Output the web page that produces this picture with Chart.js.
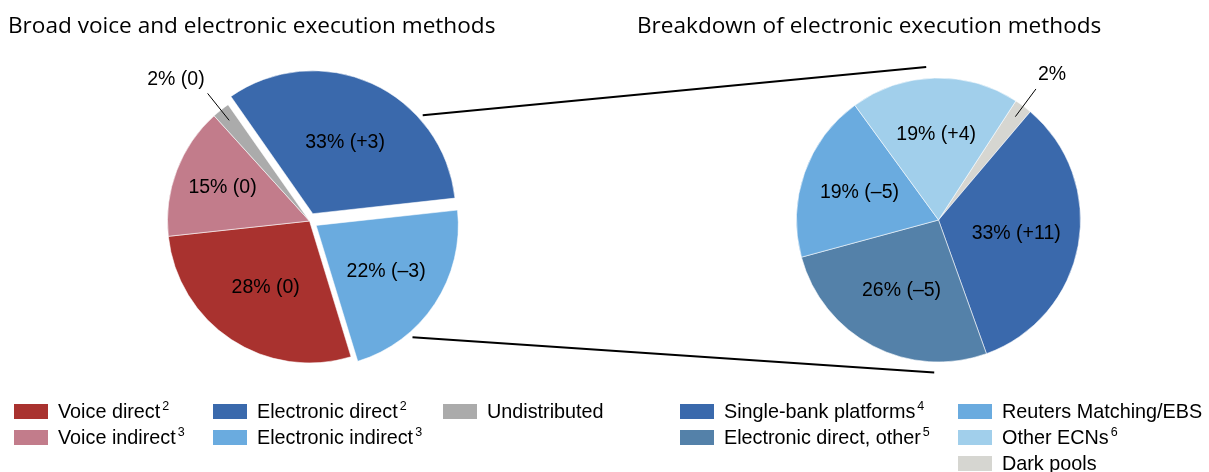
<!DOCTYPE html>
<html>
<head>
<meta charset="utf-8">
<script src="https://cdn.jsdelivr.net/npm/chart.js@4.4.1/dist/chart.umd.min.js"></script>
<style>
  html, body { margin: 0; padding: 0; background: #fff; }
  #page { position: relative; width: 1209px; height: 472px; overflow: hidden; }
  #page canvas { position: absolute; left: 0; top: 0; }
  .title { position: absolute; top: 9.5px; font-family: "Open Sans", "Noto Sans", sans-serif; font-size: 22.6px; color: #000; white-space: nowrap; line-height: 30px; }
  .legend-item { position: absolute; height: 26px; font-family: "Liberation Sans", Arial, sans-serif; font-size: 19.8px; line-height: 26px; color: #000; white-space: nowrap; }
  .legend-item .swatch { position: absolute; left: 0; top: 6px; width: 34px; height: 15px; }
  .legend-item .text { position: absolute; left: 44px; top: 0; }
  .legend-item sup { font-size: 12.5px; vertical-align: 8px; line-height: 0; margin-left: 2px; }
</style>
</head>
<body>
<div id="page">
  <canvas id="broad" width="1209" height="472"></canvas>
  <canvas id="electronic" width="1209" height="472"></canvas>
  <div class="title" style="left:8px">Broad voice and electronic execution methods</div>
  <div class="title" style="left:637px">Breakdown of electronic execution methods</div>
</div>
<script>
// ---- Broad voice and electronic execution methods (share %, change in pp) ----
const broadNames   = ['Electronic direct', 'Electronic indirect', 'Voice direct', 'Voice indirect', 'Undistributed'];
const broadNotes   = ['2', '3', '2', '3', ''];
const broadShares  = [33, 22, 28, 15, 2];
const broadChanges = [3, -3, 0, 0, 0];
const broadColors  = ['#3A69AC', '#6AABDF', '#A9322F', '#C27C8B', '#ABABAB'];
const broadExploded = [true, true, false, false, false];

// ---- Breakdown of electronic execution methods ----
const elecNames   = ['Dark pools', 'Single-bank platforms', 'Electronic direct, other', 'Reuters Matching/EBS', 'Other ECNs'];
const elecNotes   = ['', '4', '5', '', '6'];
const elecShares  = [2, 33, 26, 19, 19];
const elecChanges = [null, 11, -5, -5, 4];
const elecColors  = ['#D6D6D1', '#3A69AC', '#5481A9', '#6AABDF', '#A1CFEB'];

// Legend columns (indices into the name arrays)
const broadLegendColumns = [[2, 3], [0, 1], [4]];
const elecLegendColumns  = [[1, 2], [3, 4, 0]];

const W = 1209, H = 472;
const RADIUS = 142;
const EXPLODE = 8;          // px a detached slice is pulled out
const LABEL_FONT = '19.5px "Liberation Sans", Arial, sans-serif';

function fmtChange(v) {
  if (v === null) return '';
  if (v > 0) return ' (+' + v + ')';
  if (v < 0) return ' (\u2013' + Math.abs(v) + ')';
  return ' (0)';
}
function sliceText(shares, changes) {
  return shares.map((s, i) => s + '%' + fmtChange(changes[i]));
}

// Shift applied by the arc element when drawing an offset slice
function sliceCentre(chart, arc, i) {
  const off = chart.data.datasets[0].offset;
  const shift = (Array.isArray(off) ? (off[i] || 0) : (off || 0)) / 4;
  const mid = (arc.startAngle + arc.endAngle) / 2;
  return { x: arc.x + Math.cos(mid) * shift, y: arc.y + Math.sin(mid) * shift, mid };
}

// Value labels inside slices, small slices get a leader line
const sliceLabels = {
  id: 'sliceLabels',
  afterDatasetsDraw(chart, args, opts) {
    const ctx = chart.ctx;
    const meta = chart.getDatasetMeta(0);
    ctx.save();
    ctx.font = LABEL_FONT;
    ctx.fillStyle = '#000';
    ctx.strokeStyle = '#000';
    ctx.lineWidth = 1;
    meta.data.forEach((arc, i) => {
      const c = sliceCentre(chart, arc, i);
      const R = arc.outerRadius;
      const cos = Math.cos(c.mid), sin = Math.sin(c.mid);
      const text = opts.texts[i];
      if (opts.leader[i]) {
        const x1 = c.x + cos * R * 0.907, y1 = c.y + sin * R * 0.907;
        const x2 = c.x + cos * R * 1.15,  y2 = c.y + sin * R * 1.15;
        ctx.beginPath();
        ctx.moveTo(x1, y1);
        ctx.lineTo(x2, y2);
        ctx.stroke();
        ctx.textBaseline = 'middle';
        if (cos < 0) { ctx.textAlign = 'right'; ctx.fillText(text, x2 - 3, y2 - 14); }
        else { ctx.textAlign = 'left'; ctx.fillText(text, x2 + 2, y2 - 14); }
      } else {
        const r = R * opts.radius[i];
        ctx.textAlign = 'center';
        ctx.textBaseline = 'middle';
        ctx.fillText(text, c.x + cos * r, c.y + sin * r);
      }
    });
    ctx.restore();
  }
};

// Lines tying the electronic slices of the first pie to the breakdown pie
const connectors = {
  id: 'connectors',
  afterDatasetsDraw(chart, args, opts) {
    const src = opts.source;
    if (!src) return;
    const ctx = chart.ctx;
    const srcMeta = src.getDatasetMeta(0);
    const dst = chart.getDatasetMeta(0).data[0];
    ctx.save();
    ctx.strokeStyle = '#000';
    ctx.lineWidth = 2;
    opts.links.forEach(link => {
      const arc = srcMeta.data[link.slice];
      const c = sliceCentre(src, arc, link.slice);
      const a = arc.startAngle + (arc.endAngle - arc.startAngle) * link.along;
      const r1 = arc.outerRadius + link.gap;
      const b = link.toAngle * Math.PI / 180;
      const r2 = dst.outerRadius + link.toGap;
      ctx.beginPath();
      ctx.moveTo(c.x + Math.cos(a) * r1, c.y + Math.sin(a) * r1);
      ctx.lineTo(dst.x + Math.cos(b) * r2, dst.y + Math.sin(b) * r2);
      ctx.stroke();
    });
    ctx.restore();
  }
};

function pieConfig(names, shares, colors, offsets, cx, cy, rotation, labelOpts, extra) {
  return {
    type: 'pie',
    data: {
      labels: names,
      datasets: [{
        data: shares,
        backgroundColor: colors,
        borderColor: 'rgba(255,255,255,0.7)',
        borderWidth: 0.8,
        offset: offsets
      }]
    },
    options: {
      responsive: false,
      animation: false,
      events: [],
      radius: RADIUS,
      rotation: rotation,
      layout: { padding: { left: cx - 150, right: W - cx - 150, top: cy - 150, bottom: H - cy - 150 } },
      plugins: {
        legend: { display: false },
        tooltip: { enabled: false },
        title: { display: false },
        sliceLabels: labelOpts,
        connectors: extra || {}
      }
    },
    plugins: [sliceLabels, connectors]
  };
}

const broadChart = new Chart(document.getElementById('broad'), pieConfig(
  broadNames, broadShares, broadColors,
  broadExploded.map(e => e ? EXPLODE * 4 : 0),
  309.5, 221, -35,
  { texts: sliceText(broadShares, broadChanges), radius: [0.55, 0.59, 0.56, 0.655, 0], leader: broadShares.map(v => v < 5) }
));

new Chart(document.getElementById('electronic'), pieConfig(
  elecNames, elecShares, elecColors,
  0,
  938.5, 220, 33,
  { texts: sliceText(elecShares, elecChanges), radius: [0, 0.556, 0.563, 0.59, 0.6], leader: elecShares.map(v => v < 5) },
  {
    source: broadChart,
    links: [
      { slice: 0, along: 0.70, gap: 5.5, toAngle: 265.4, toGap: 11.5 },
      { slice: 1, along: 0.70, gap: 5.5, toAngle: 91.6, toGap: 10.5 }
    ]
  }
));

// HTML legends with footnote markers
function buildLegend(columns, names, notes, colors, xs) {
  const page = document.getElementById('page');
  columns.forEach((col, ci) => {
    col.forEach((idx, ri) => {
      const item = document.createElement('div');
      item.className = 'legend-item';
      item.style.left = xs[ci] + 'px';
      item.style.top = (398 + ri * 26) + 'px';
      const sw = document.createElement('span');
      sw.className = 'swatch';
      sw.style.background = colors[idx];
      const tx = document.createElement('span');
      tx.className = 'text';
      tx.textContent = names[idx];
      if (notes[idx]) {
        const sup = document.createElement('sup');
        sup.textContent = notes[idx];
        tx.appendChild(sup);
      }
      item.appendChild(sw);
      item.appendChild(tx);
      page.appendChild(item);
    });
  });
}
buildLegend(broadLegendColumns, broadNames, broadNotes, broadColors, [14, 213, 443]);
buildLegend(elecLegendColumns, elecNames, elecNotes, elecColors, [680, 958]);
</script>
</body>
</html>
